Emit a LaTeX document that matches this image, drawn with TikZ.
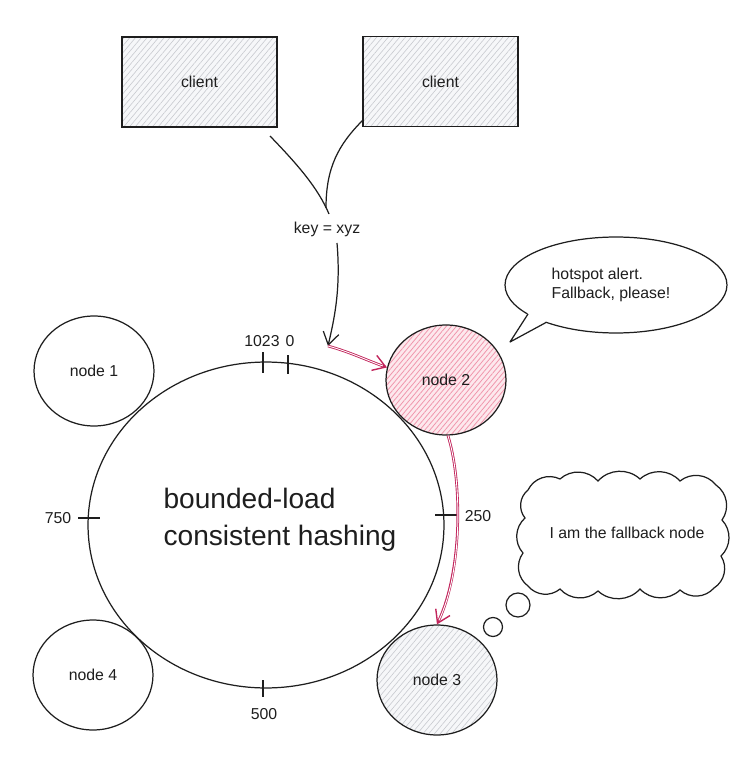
\documentclass[tikz,border=0pt]{standalone}
\usepackage{fontspec}
\setmainfont{Liberation Sans}
\usetikzlibrary{shapes.geometric,arrows.meta,patterns.meta}
\definecolor{ink}{RGB}{30,30,30}
\definecolor{hatchgray}{RGB}{200,202,208}
\definecolor{fillgray}{RGB}{246,247,249}
\definecolor{pinkfill}{RGB}{253,232,237}
\definecolor{pinkhatch}{RGB}{240,150,172}
\definecolor{crimson}{RGB}{194,37,92}
\begin{document}
\begin{tikzpicture}[x=0.02cm,y=-0.02cm,
  every node/.style={font=\fontsize{9}{11}\selectfont, text=ink},
  line/.style={draw=ink, line width=0.7pt},
  grayhatch/.style={preaction={fill=fillgray}, preaction={pattern={Lines[angle=50,distance=2.5pt,line width=0.35pt]}, pattern color=hatchgray}},
  pinkhatchfill/.style={preaction={fill=pinkfill}, preaction={pattern={Lines[angle=50,distance=2.2pt,line width=0.45pt]}, pattern color=pinkhatch}},
  clientbox/.style={line, grayhatch, minimum width=3.1cm, minimum height=1.8cm, inner sep=0pt},
  hashnode/.style={line, ellipse, minimum width=2.4cm, minimum height=2.2cm, inner sep=0pt},
  plainfill/.style={fill=white},
  ticklabel/.style={inner sep=1pt},
  tip/.style={-{Straight Barb[length=7pt,width=9pt,line width=0.7pt]}},
  redarrow/.style={draw=crimson, line width=1.5pt, -{Straight Barb[length=7pt,width=9pt,line width=0.8pt]}},
  redinner/.style={draw=white, line width=0.5pt, shorten >=2.5pt}
]
\useasboundingbox (0,0) rectangle (743,780);

% clients
\node[clientbox] (c1) at (199.5,82) {client};
\node[clientbox] (c2) at (440.5,81.5) {client};

% ring
\node[line, ellipse, minimum width=7.12cm, minimum height=6.52cm, inner sep=0pt] (ring) at (266,525) {};
\node[align=left, font=\fontsize{16}{21}\selectfont] (title) at (280,520) {bounded-load\\consistent hashing};

% ticks
\draw[line] (263,352) -- (263,373);
\draw[line] (288,355) -- (288,374);
\draw[line] (78,518) -- (100,518);
\draw[line] (435,515) -- (458,515);
\draw[line] (263,680) -- (263,697);
\node[ticklabel] (l1023) at (262,341) {1023};
\node[ticklabel] (l0) at (290,341) {0};
\node[ticklabel] (l750) at (58,518) {750};
\node[ticklabel] (l250) at (478,516) {250};
\node[ticklabel] (l500) at (264,714) {500};

% hash nodes
\node[hashnode, plainfill] (n1) at (94,371) {node 1};
\node[hashnode, plainfill] (n4) at (93,675) {node 4};
\node[hashnode, pinkhatchfill] (n2) at (446,380) {node 2};
\node[hashnode, grayhatch] (n3) at (437,680) {node 3};

% key path
\coordinate (s1) at (270,136);
\coordinate (e1) at (329,214);
\coordinate (s2) at (363,120);
\coordinate (e2) at (326,208);
\node (key) at (327,229) {key = xyz};
\coordinate (k0) at (337,243);
\coordinate (hit) at (328,346);
\draw[line] (s1) .. controls (298,165) and (318,188) .. (e1);
\draw[line] (s2) .. controls (338,145) and (326,168) .. (e2);
\draw[line, tip] (k0) .. controls (341,290) and (334,320) .. (hit);

% red fallback arrows
\draw[redarrow] (hit) .. controls (350,352) and (366,360) .. (n2.168);
\draw[redinner] (hit) .. controls (350,352) and (366,360) .. (n2.168);
\draw[redarrow] (n2.272) .. controls (462,480) and (463,570) .. (n3.north);
\draw[redinner] (n2.272) .. controls (462,480) and (463,570) .. (n3.north);

% speech bubble
\node[line, ellipse, minimum width=4.44cm, minimum height=1.92cm, inner sep=0pt, fill=white] (bubble) at (616,285) {};
\node[align=left] (btext) at (611,285) {hotspot alert.\\Fallback, please!};
\fill[white] (528,313) -- (510,342) -- (546,322) -- (540,311) -- cycle;
\coordinate (tb1) at (528,314);
\coordinate (ttip) at (510,342);
\coordinate (tb2) at (546,322.5);
\draw[line, line join=round] (tb1) -- (ttip) -- (tb2);

% thought cloud
\draw[line, fill=white] (528,490)
  to[bend left=45] (560,479) to[bend left=45] (598,481) to[bend left=45] (640,479)
  to[bend left=45] (680,481) to[bend left=45] (716,485)
  to[bend left=45] (722,520) to[bend left=45] (721,556) to[bend left=45] (714,588)
  to[bend left=45] (680,590) to[bend left=45] (640,589) to[bend left=45] (598,591)
  to[bend left=45] (560,589) to[bend left=45] (528,586)
  to[bend left=45] (523,553) to[bend left=45] (525,518) to[bend left=45] cycle;
\node (ctext) at (627,533) {I am the fallback node};
\node[line, circle, minimum size=0.48cm, inner sep=0pt] (t2) at (518,605) {};
\node[line, circle, minimum size=0.38cm, inner sep=0pt] (t1) at (493,627) {};
\end{tikzpicture}
\end{document}
